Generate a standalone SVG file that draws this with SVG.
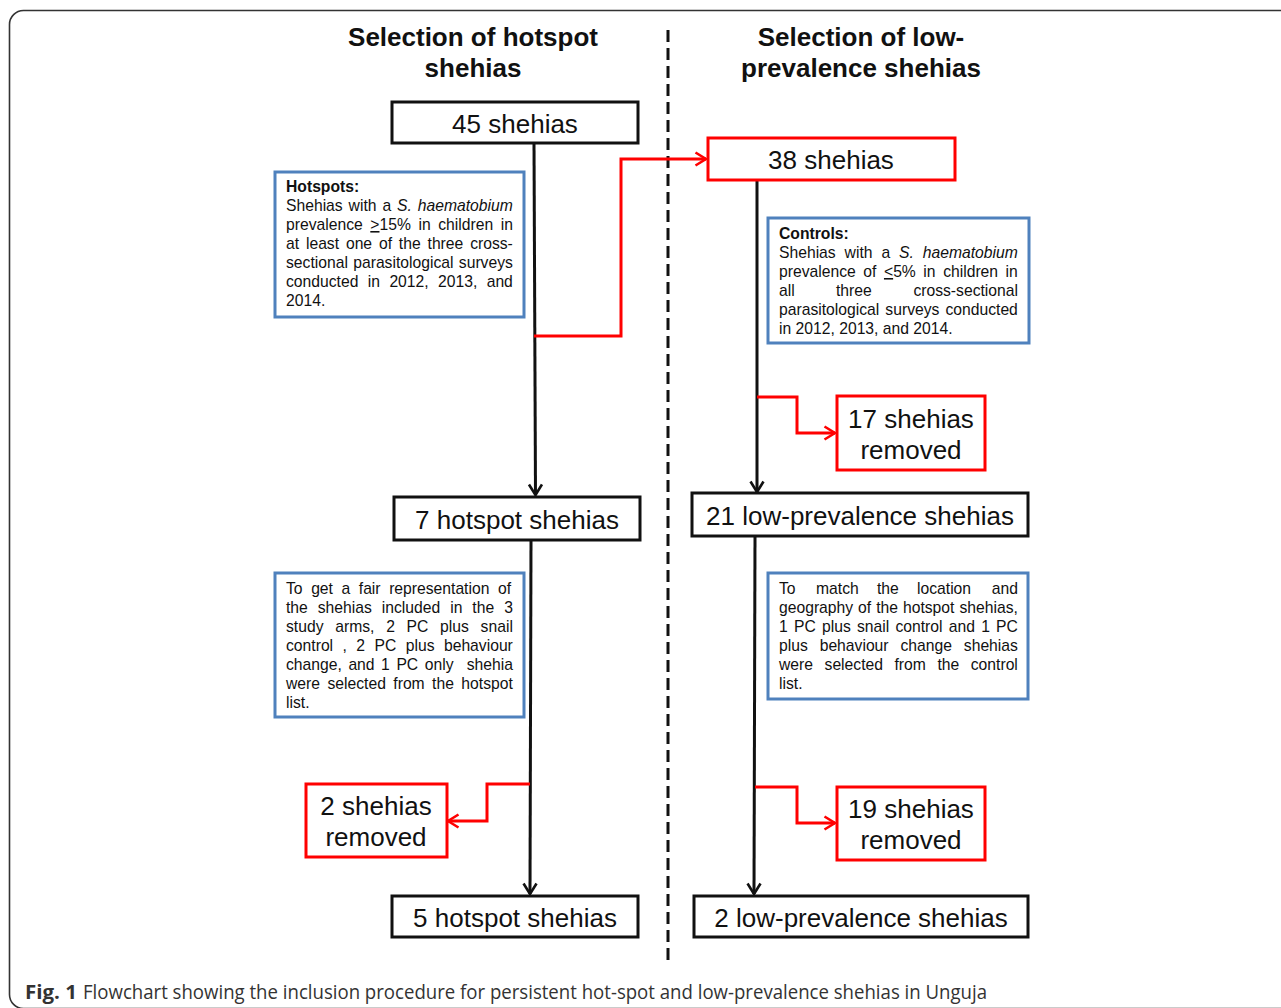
<svg xmlns="http://www.w3.org/2000/svg" width="1281" height="1008" viewBox="0 0 1281 1008">
<style>
.t{font-family:"Liberation Sans",Arial,sans-serif;fill:#111}
.title{font-size:26px;font-weight:bold;text-anchor:middle}
.big{font-size:26px;text-anchor:middle}
.sm{font-size:15.7px}
.bk{fill:#fff;stroke:#111;stroke-width:3}
.rd{fill:#fff;stroke:#ff0000;stroke-width:3}
.bl{fill:#fff;stroke:#4f81bd;stroke-width:3}
.cb{fill:none;stroke:#111;stroke-width:3}
.cr{fill:none;stroke:#ff0000;stroke-width:3}
.cap{font-family:"Open Sans","Liberation Sans",sans-serif;font-size:20px;fill:#333}
</style>
<defs>
<marker id="ab" viewBox="0 0 14 16" refX="12" refY="8" markerWidth="14" markerHeight="16" markerUnits="userSpaceOnUse" orient="auto">
<path d="M1.5,1.5 L12,8 L1.5,14.5" fill="none" stroke="#111" stroke-width="2.6"/>
</marker>
<marker id="ar" viewBox="0 0 14 16" refX="12" refY="8" markerWidth="14" markerHeight="16" markerUnits="userSpaceOnUse" orient="auto">
<path d="M1.5,1.5 L12,8 L1.5,14.5" fill="none" stroke="#ff0000" stroke-width="2.6"/>
</marker>
</defs>
<rect width="1281" height="1008" fill="#fff"/>
<rect x="9.5" y="10.5" width="1300" height="998" rx="14" fill="none" stroke="#333" stroke-width="1.6"/>

<g id="titles">
<text class="t title" x="473" y="46">Selection of hotspot</text>
<text class="t title" x="473" y="77">shehias</text>
<text class="t title" x="861" y="46">Selection of low-</text>
<text class="t title" x="861" y="77">prevalence shehias</text>
</g>

<line x1="668" y1="30" x2="668" y2="966" stroke="#111" stroke-width="3" stroke-dasharray="12 6"/>

<g id="connectors">
<path class="cb" d="M534,143 L535.5,495" marker-end="url(#ab)"/>
<path class="cr" d="M534,336 L621,336 L621,159 L706,159" marker-end="url(#ar)"/>
<path class="cb" d="M757,180 L757,492" marker-end="url(#ab)"/>
<path class="cr" d="M757,397 L797,397 L797,433 L835,433" marker-end="url(#ar)"/>
<path class="cb" d="M531,540 L530,894" marker-end="url(#ab)"/>
<path class="cr" d="M530,784 L487,784 L487,821 L448,821" marker-end="url(#ar)"/>
<path class="cb" d="M755,536 L754,894" marker-end="url(#ab)"/>
<path class="cr" d="M755,787 L797,787 L797,823 L835,823" marker-end="url(#ar)"/>
</g>

<g id="n45">
<rect class="bk" x="392" y="102" width="246" height="41"/>
<text class="t big" x="515" y="133">45 shehias</text>
</g>

<g id="n38">
<rect class="rd" x="708" y="138" width="247" height="42"/>
<text class="t big" x="831" y="169">38 shehias</text>
</g>

<g id="hotspots">
<rect class="bl" x="275" y="172" width="249" height="145"/>
<text class="t sm" x="286" y="192" font-weight="bold">Hotspots:</text>
<text class="t sm" x="286" y="211" word-spacing="1.55">Shehias with a <tspan font-style="italic">S. haematobium</tspan></text>
<text class="t sm" x="286" y="230" word-spacing="3.2">prevalence <tspan text-decoration="underline">&gt;</tspan>15% in children in</text>
<text class="t sm" x="286" y="249" word-spacing="2.49">at least one of the three cross-</text>
<text class="t sm" x="286" y="268" word-spacing="0.95">sectional parasitological surveys</text>
<text class="t sm" x="286" y="287" word-spacing="5.03">conducted in 2012, 2013, and</text>
<text class="t sm" x="286" y="306">2014.</text>
</g>

<g id="controls">
<rect class="bl" x="768" y="218" width="261" height="125"/>
<text class="t sm" x="779" y="239" font-weight="bold">Controls:</text>
<text class="t sm" x="779" y="258" word-spacing="4.55">Shehias with a <tspan font-style="italic">S. haematobium</tspan></text>
<text class="t sm" x="779" y="277" word-spacing="3.2">prevalence of <tspan text-decoration="underline">&lt;</tspan>5% in children in</text>
<text class="t sm" y="296"><tspan x="779">all</tspan><tspan x="836">three</tspan><tspan x="1018" text-anchor="end">cross-sectional</tspan></text>
<text class="t sm" x="779" y="315" word-spacing="1.7">parasitological surveys conducted</text>
<text class="t sm" x="779" y="334">in 2012, 2013, and 2014.</text>
</g>

<g id="n17">
<rect class="rd" x="837" y="396" width="148" height="74"/>
<text class="t big" x="911" y="428">17 shehias</text>
<text class="t big" x="911" y="459">removed</text>
</g>

<g id="n7">
<rect class="bk" x="394" y="497" width="246" height="43"/>
<text class="t big" x="517" y="529">7 hotspot shehias</text>
</g>

<g id="n21">
<rect class="bk" x="692" y="493" width="336" height="43"/>
<text class="t big" x="860" y="525">21 low-prevalence shehias</text>
</g>

<g id="arms">
<rect class="bl" x="275" y="573" width="249" height="144"/>
<text class="t sm" x="286" y="594" word-spacing="4.2">To get a fair representation of</text>
<text class="t sm" x="286" y="613" word-spacing="5.6">the shehias included in the 3</text>
<text class="t sm" x="286" y="632" word-spacing="7.36">study arms, 2 PC plus snail</text>
<text class="t sm" x="286" y="651" word-spacing="5.08">control , 2 PC plus behaviour</text>
<text class="t sm" x="286" y="670" word-spacing="2.2" xml:space="preserve">change, and 1 PC only  shehia</text>
<text class="t sm" x="286" y="689" word-spacing="3.08">were selected from the hotspot</text>
<text class="t sm" x="286" y="708">list.</text>
</g>

<g id="match">
<rect class="bl" x="768" y="573" width="260" height="126"/>
<text class="t sm" y="594"><tspan x="779">To</tspan><tspan x="816">match</tspan><tspan x="877">the</tspan><tspan x="917">location</tspan><tspan x="1018" text-anchor="end">and</tspan></text>
<text class="t sm" x="779" y="613" word-spacing="0.62">geography of the hotspot shehias,</text>
<text class="t sm" x="779" y="632" word-spacing="1.86">1 PC plus snail control and 1 PC</text>
<text class="t sm" x="779" y="651" word-spacing="7.53">plus behaviour change shehias</text>
<text class="t sm" x="779" y="670" word-spacing="7.18">were selected from the control</text>
<text class="t sm" x="779" y="689">list.</text>
</g>

<g id="n2">
<rect class="rd" x="306" y="784" width="141" height="73"/>
<text class="t big" x="376" y="815">2 shehias</text>
<text class="t big" x="376" y="846">removed</text>
</g>

<g id="n19">
<rect class="rd" x="837" y="787" width="148" height="73"/>
<text class="t big" x="911" y="818">19 shehias</text>
<text class="t big" x="911" y="849">removed</text>
</g>

<g id="n5">
<rect class="bk" x="392" y="896" width="246" height="41"/>
<text class="t big" x="515" y="927">5 hotspot shehias</text>
</g>

<g id="n2lp">
<rect class="bk" x="694" y="896" width="334" height="41"/>
<text class="t big" x="861" y="927">2 low-prevalence shehias</text>
</g>

<g id="caption">
<text class="cap" x="25" y="999" font-weight="bold" fill="#222" textLength="52" lengthAdjust="spacingAndGlyphs">Fig. 1</text>
<text class="cap" x="83" y="999" textLength="904" lengthAdjust="spacingAndGlyphs">Flowchart showing the inclusion procedure for persistent hot-spot and low-prevalence shehias in Unguja</text>
</g>
</svg>
